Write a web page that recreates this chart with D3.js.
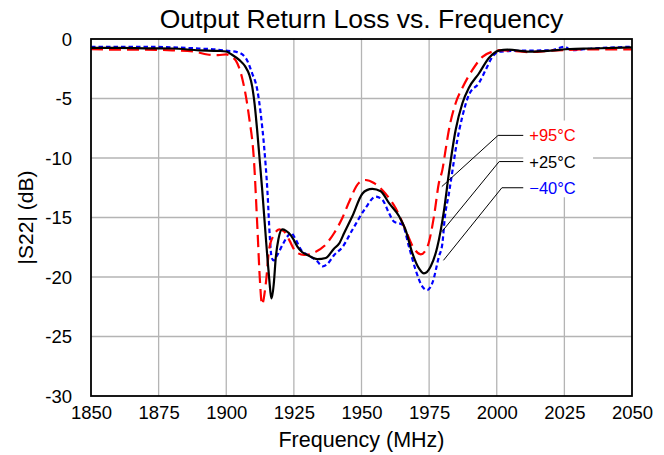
<!DOCTYPE html>
<html>
<head>
<meta charset="utf-8">
<script src="https://cdn.jsdelivr.net/npm/d3@7"></script>
<style>
body{margin:0;background:#fff;}
text{font-family:"Liberation Sans",Arial,sans-serif;}
</style>
</head>
<body>
<div id="plot"></div>
<script>
/* data */
var freqTicks = [1850,1875,1900,1925,1950,1975,2000,2025,2050];
var dbTicks = [0,-5,-10,-15,-20,-25,-30];

var freq95 = [1850,1860,1870,1880,1888,1893,1897,1900,1902.5,1903.5,1906,1908.4,1910.3,1911.5,1912.5,1913.2,1914.7,1915.9,1917.8,1919.6,1921.5,1923.3,1925.8,1928.8,1932.5,1936.2,1939.9,1943,1945.4,1949,1951.5,1954.6,1958.9,1962.6,1966.3,1969.4,1971.9,1974.3,1976.8,1978.6,1979.9,1981.1,1982.3,1984.8,1987.3,1991,1994.7,1998.4,2001,2012,2020,2035,2050];
var s22_95 = [-0.85,-0.9,-0.9,-0.95,-1.05,-1.3,-1.35,-1.3,-1.57,-1.8,-3.4,-6.5,-10.4,-15.8,-20.5,-22.3,-20.4,-17.6,-16.4,-16.0,-16.2,-16.9,-17.9,-18.15,-17.95,-17.4,-16.3,-15.0,-13.7,-12.1,-11.85,-12.1,-13.0,-14.2,-16.05,-17.6,-18.1,-17.5,-14.9,-12.1,-11.0,-9.3,-7.65,-5.4,-4.1,-2.6,-1.5,-1.06,-0.93,-1.1,-0.98,-0.87,-0.87];

var freq25 = [1850,1860,1870,1880,1890,1897,1900,1902,1905,1907,1908.5,1909.6,1910.5,1911.4,1912.3,1913.3,1914.6,1915.6,1916.8,1917.6,1918.3,1919.3,1920.7,1922,1923.9,1925,1926.3,1928,1930,1933.7,1936.8,1939.9,1941.7,1943.6,1946.6,1950.3,1952,1954,1957.1,1960.2,1963.9,1966.3,1968.8,1971.3,1973.1,1975.6,1978,1980.5,1982.3,1984.8,1987.3,1989.7,1993.4,1997.1,2000.8,2004,2012,2020,2027,2035,2050];
var s22_25 = [-0.75,-0.75,-0.78,-0.8,-0.95,-1.0,-1.05,-1.3,-1.8,-2.3,-3.0,-4.0,-5.5,-7.6,-10,-12.7,-16.6,-19.4,-21.8,-20.5,-18.4,-16.8,-16.0,-16.1,-16.5,-16.9,-17.45,-17.9,-18.15,-18.5,-18.4,-17.6,-17.2,-16.3,-14.9,-13.0,-12.7,-12.6,-12.8,-13.8,-14.9,-16.05,-18.0,-19.3,-19.7,-19.1,-17.5,-14.4,-11.3,-7.65,-5.4,-4.1,-2.9,-1.6,-0.98,-0.9,-1.06,-0.98,-0.84,-0.8,-0.7];

var freqM40 = [1850,1860,1870,1880,1890,1897,1900.6,1904,1907.2,1909.6,1911.5,1912.7,1914,1915.2,1916.1,1916.8,1917.5,1918.9,1920.8,1922.6,1923.9,1925.8,1927.6,1931.3,1933.7,1935.6,1937.4,1939.9,1942.9,1946.6,1951.5,1955.2,1957.7,1960.2,1962,1965.1,1967.6,1970,1972.5,1974.3,1976.2,1978.6,1979.9,1980.8,1982.3,1984,1984.8,1987.3,1989.7,1993.4,1995.9,1998.4,2000.8,2010,2020,2025,2027.5,2035,2050];
var s22_M40 = [-0.65,-0.65,-0.65,-0.7,-0.8,-0.9,-1.0,-1.1,-1.6,-2.9,-4.3,-6.2,-9.05,-12.7,-16.6,-18.4,-18.6,-18.15,-17.3,-16.6,-16.3,-16.9,-17.7,-18.3,-18.7,-19.1,-18.9,-18.15,-17.5,-16.05,-14.2,-13.25,-13.5,-14.65,-15.35,-15.6,-17.5,-19.4,-20.8,-21.1,-20.5,-18.3,-17.2,-15.0,-13.0,-10.5,-9.3,-6.5,-4.7,-3.7,-2.6,-1.5,-1.06,-0.98,-0.95,-0.65,-0.93,-0.8,-0.65];

var tempLabels = ['+95\u00B0C','+25\u00B0C','\u221240\u00B0C'];
var labelColors = ['#ff0000','#000000','#0000ff'];
// leader line: tip on the curve, elbow, label end (freq, dB)
var leaderTip = [[1979.7,-12.4],[1979.7,-16.2],[1980.3,-18.6]];
var leaderElbow = [[2000.5,-8.1],[2000.9,-10.3],[2001.9,-12.5]];
var leaderEnd = [[2009.8,-8.1],[2009.8,-10.3],[2009.8,-12.5]];

/* canvas */
var W = 664, H = 455;
var svg = d3.select('#plot').append('svg')
    .attr('width',W).attr('height',H);
svg.append('rect').attr('width',W).attr('height',H).attr('fill','#fff');

var x = d3.scaleLinear().domain([1850,2050]).range([91,632]);
var y = d3.scaleLinear().domain([-30,0]).range([396,39]);

// grid
svg.append('g').selectAll('line').data(freqTicks.slice(1,-1)).enter().append('line')
    .attr('x1',function(d){return x(d)}).attr('x2',function(d){return x(d)})
    .attr('y1',y(0)).attr('y2',y(-30))
    .attr('stroke','#b4b4b4').attr('stroke-width',1.3);
svg.append('g').selectAll('line').data(dbTicks.slice(1,-1)).enter().append('line')
    .attr('y1',function(d){return y(d)}).attr('y2',function(d){return y(d)})
    .attr('x1',x(1850)).attr('x2',x(2050))
    .attr('stroke','#b4b4b4').attr('stroke-width',1.3);

// axes (labels only, frame drawn below)
var xAxis = svg.append('g').attr('transform','translate(0,'+y(-30)+')')
    .call(d3.axisBottom(x).tickValues(freqTicks).tickFormat(d3.format('d')).tickSize(0).tickPadding(10));
var yAxis = svg.append('g').attr('transform','translate('+x(1850)+',0)')
    .call(d3.axisLeft(y).tickValues(dbTicks).tickFormat(function(d){return d===0?'0':String(d)}).tickSize(0).tickPadding(19));
[xAxis,yAxis].forEach(function(a){
    a.select('.domain').remove();
    a.selectAll('text').attr('font-size',18.5).attr('fill','#000')
        .style('font-family','"Liberation Sans",Arial,sans-serif');
});
yAxis.selectAll('text').attr('dy','0.35em');
xAxis.selectAll('text').attr('dy','0.72em');

// curves
var line = d3.line()
    .x(function(d){return x(d[0])})
    .y(function(d){return y(d[1])})
    .curve(d3.curveMonotoneX);

var series = [
    {f:freqM40, v:s22_M40, color:'#0000ff', dash:'4.5,3', w:2.2},
    {f:freq95, v:s22_95, color:'#ff0000', dash:'12,6', w:2.2},
    {f:freq25, v:s22_25, color:'#000000', dash:null, w:2.2}
];
series.forEach(function(s){
    svg.append('path')
        .datum(d3.zip(s.f, s.v))
        .attr('d',line)
        .attr('fill','none')
        .attr('stroke',s.color)
        .attr('stroke-width',s.w)
        .attr('stroke-dasharray',s.dash);
});

// frame
svg.append('rect')
    .attr('x',x(1850)).attr('y',y(0))
    .attr('width',x(2050)-x(1850)).attr('height',y(-30)-y(0))
    .attr('fill','none').attr('stroke','#000').attr('stroke-width',1.8);

// labels box + leaders
svg.append('rect')
    .attr('x',x(2009.8)).attr('y',y(-6.85))
    .attr('width',x(2035.6)-x(2009.8)).attr('height',y(-13.3)-y(-6.85))
    .attr('fill','#fff');

tempLabels.forEach(function(t,i){
    svg.append('polyline')
        .attr('points',[leaderTip[i],leaderElbow[i],leaderEnd[i]].map(function(p){return x(p[0])+','+y(p[1])}).join(' '))
        .attr('fill','none').attr('stroke','#000').attr('stroke-width',1);
    svg.append('text')
        .attr('x',x(leaderEnd[i][0])+6)
        .attr('y',y(leaderEnd[i][1]))
        .attr('dy','0.36em')
        .attr('font-size',16.5)
        .attr('fill',labelColors[i])
        .text(t);
});

// titles
svg.append('text').attr('x',(x(1850)+x(2050))/2).attr('y',28)
    .attr('text-anchor','middle').attr('font-size',26.5).text('Output Return Loss vs. Frequency');
svg.append('text').attr('x',(x(1850)+x(2050))/2).attr('y',447)
    .attr('text-anchor','middle').attr('font-size',21.5).text('Frequency (MHz)');
svg.append('text').attr('transform','translate(33,'+((y(0)+y(-30))/2)+') rotate(-90)')
    .attr('text-anchor','middle').attr('font-size',21).text('|S22| (dB)');
</script>
</body>
</html>
